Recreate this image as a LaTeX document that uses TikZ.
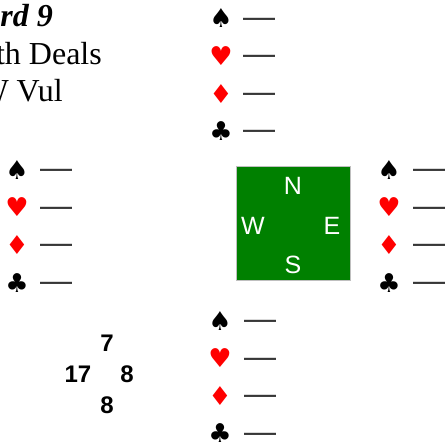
\documentclass[tikz,border=0pt]{standalone}
\usepackage{fontspec}
\setmainfont{Liberation Serif}
\newfontfamily\arialf{Liberation Sans}
\newfontfamily\suitf{DejaVu Sans}
\definecolor{feltgreen}{RGB}{0,128,0}
\definecolor{dashgray}{RGB}{55,55,55}
\tikzset{
  suitsym/.style={font=\suitf\fontsize{26}{26}\selectfont, inner sep=0, anchor=center},
  redsuit/.style={suitsym, text=red},
  blacksuit/.style={suitsym, text=black},
  voidmark/.style={font=\arialf\fontsize{32}{32}\selectfont, text=dashgray, inner sep=0, anchor=west},
  headtext/.style={font=\fontsize{32}{32}\selectfont, inner sep=0, anchor=base east},
  compass/.style={font=\arialf\fontsize{25}{25}\selectfont, text=white, inner sep=0, anchor=center},
  hcp/.style={font=\arialf\bfseries\fontsize{24}{24}\selectfont, inner sep=0, anchor=center}
}
\begin{document}
\begin{tikzpicture}[x=1pt, y=-1pt]
\useasboundingbox (0,0) rectangle (448,446);
\clip (0,0) rectangle (448,446);
% header
\node[headtext, font=\bfseries\itshape\fontsize{32}{32}\selectfont] (board) at (53,27) {Board 9};
\node[headtext] (dealer) at (102,65) {North Deals};
\node[headtext] (vul) at (63,102) {E-W Vul};
% North
\node[blacksuit] (ns) at (221,18) {♠};
\node[redsuit] (nh) at (221,56) {♥};
\node[redsuit] (nd) at (221,94) {♦};
\node[blacksuit] (nc) at (221,131) {♣};
\node[voidmark] (nsd) at (243,23) {—};
\node[voidmark] (nhd) at (243,60) {—};
\node[voidmark] (ndd) at (243,98) {—};
\node[voidmark] (ncd) at (243,135) {—};
% West
\node[blacksuit] (ws) at (17,170) {♠};
\node[redsuit] (wh) at (17,207) {♥};
\node[redsuit] (wd) at (17,245) {♦};
\node[blacksuit] (wc) at (17,283) {♣};
\node[voidmark] (wsd) at (40,174) {—};
\node[voidmark] (whd) at (40,212) {—};
\node[voidmark] (wdd) at (40,249) {—};
\node[voidmark] (wcd) at (40,287) {—};
% East
\node[blacksuit] (es) at (389,170) {♠};
\node[redsuit] (eh) at (389,207) {♥};
\node[redsuit] (ed) at (389,245) {♦};
\node[blacksuit] (ec) at (389,283) {♣};
\node[voidmark] (esd) at (413,174) {—};
\node[voidmark] (ehd) at (413,212) {—};
\node[voidmark] (edd) at (413,249) {—};
\node[voidmark] (ecd) at (413,287) {—};
% South
\node[blacksuit] (ss) at (220,321) {♠};
\node[redsuit] (sh) at (220,358) {♥};
\node[redsuit] (sd) at (220,396) {♦};
\node[blacksuit] (sc) at (220,433) {♣};
\node[voidmark] (ssd) at (244,325) {—};
\node[voidmark] (shd) at (244,363) {—};
\node[voidmark] (sdd) at (244,400) {—};
\node[voidmark] (scd) at (244,438) {—};
% table
\node[draw=black!25, line width=1pt, fill=feltgreen, minimum width=114pt, minimum height=114pt, inner sep=0] (table) at (293,224) {};
\node[compass] (cn) at (293,186) {N};
\node[compass] (cw) at (253,226) {W};
\node[compass] (ce) at (332,226) {E};
\node[compass] (cs) at (293,265) {S};
% HCP
\node[hcp] (hn) at (107,343) {7};
\node[hcp] (hw) at (78,374) {17};
\node[hcp] (he) at (127,374) {8};
\node[hcp] (hs) at (107,405) {8};
\end{tikzpicture}
\end{document}
